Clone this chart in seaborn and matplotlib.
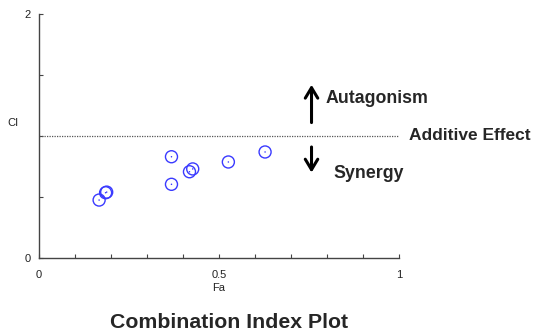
import matplotlib
matplotlib.use("Agg")
import matplotlib.pyplot as plt
import seaborn as sns
import pandas as pd
import numpy as np

fa = [0.167, 0.185, 0.188, 0.368, 0.368, 0.418, 0.427, 0.526, 0.628]
ci = [0.475, 0.535, 0.540, 0.830, 0.604, 0.707, 0.730, 0.787, 0.869]
x_ticks = [0, 0.1, 0.2, 0.3, 0.4, 0.5, 0.6, 0.7, 0.8, 0.9, 1.0]
x_labels = ["0", "", "", "", "", "0.5", "", "", "", "", "1"]
y_ticks = [0, 0.5, 1.0, 1.5, 2.0]
y_labels = ["0", "", "", "", "2"]

df = pd.DataFrame({"Fa": fa, "CI": ci})

sns.set_style("white")
plt.rcParams['font.family'] = ['Liberation Sans', 'DejaVu Sans']

fig = plt.figure(figsize=(5.36, 3.34), dpi=100)
ax = fig.add_axes([39/536, 1 - 258/334, 360/536, 244/334])

blue = "#3a3aff"
sns.scatterplot(data=df, x="Fa", y="CI", ax=ax, marker="o", s=75,
                facecolors="none", edgecolor=blue, linewidth=1.0, zorder=3)
sns.scatterplot(data=df, x="Fa", y="CI", ax=ax, marker="o", s=1.2,
                color=blue, edgecolor="none", linewidth=0, zorder=4)

ax.axhline(1.0, color="#555555", linestyle=(0, (1, 1)), linewidth=0.9, zorder=2)

ax.set_xlim(0, 1)
ax.set_ylim(0, 2)
ax.set_xticks(x_ticks)
ax.set_xticklabels(x_labels)
ax.set_yticks(y_ticks)
ax.set_yticklabels(y_labels)
ax.tick_params(direction="in", length=3, width=0.8, color="#444444",
               labelsize=8, labelcolor="#222222", pad=6)
ax.tick_params(axis="x", pad=9, bottom=True)
ax.tick_params(axis="y", left=True)
for s in ["top", "right"]:
    ax.spines[s].set_visible(False)
for s in ["left", "bottom"]:
    ax.spines[s].set_color("#444444")
    ax.spines[s].set_linewidth(1.0)

ax.set_xlabel("Fa", fontsize=8, color="#222222", labelpad=2)
ax.set_ylabel("")
fig.text(13/536, 1 - 123/334, "CI", fontsize=8, color="#222222", ha="center", va="center")

arrow_style = "-|>,head_length=0.7,head_width=0.3"
ax.annotate("", xy=(0.757, 1.42), xytext=(0.757, 1.11),
            arrowprops=dict(arrowstyle="->,head_length=0.75,head_width=0.45", color="black",
                            lw=2.2, shrinkA=0, shrinkB=0))
ax.annotate("", xy=(0.757, 0.70), xytext=(0.757, 0.91),
            arrowprops=dict(arrowstyle="->,head_length=0.75,head_width=0.45", color="black",
                            lw=2.2, shrinkA=0, shrinkB=0))
ax.text(0.795, 1.31, "Autagonism", fontsize=12.8, fontweight="bold", va="center", ha="left")
ax.text(0.817, 0.69, "Synergy", fontsize=12.8, fontweight="bold", va="center", ha="left")
ax.text(1.028, 1.0, "Additive Effect", fontsize=12.5, fontweight="bold", va="center", ha="left",
        clip_on=False)

fig.text(229/536, 1 - 322/334, "Combination Index Plot", fontsize=15.3, fontweight="bold",
         ha="center", va="center")

fig.savefig("out.png", dpi=100)
